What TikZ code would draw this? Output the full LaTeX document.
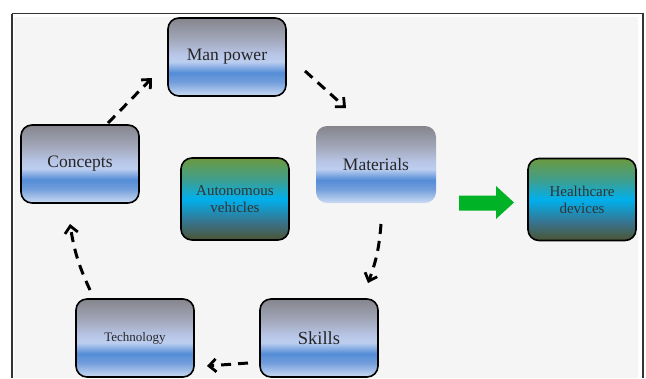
\documentclass[tikz,border=0pt]{standalone}
\usepackage{fontspec}
\setmainfont{Liberation Serif}
\usetikzlibrary{arrows.meta}

% Grey-to-blue glossy fill (0bp = bottom; the box spans 25bp..75bp)
\pgfdeclareverticalshading{bluegloss}{100bp}{%
  rgb(0bp)=(0.80,0.86,0.95);
  rgb(25bp)=(0.80,0.86,0.95);
  rgb(34bp)=(0.45,0.62,0.86);
  rgb(40bp)=(0.33,0.55,0.84);
  rgb(47bp)=(0.74,0.81,0.94);
  rgb(52bp)=(0.72,0.77,0.90);
  rgb(62bp)=(0.63,0.65,0.72);
  rgb(75bp)=(0.52,0.52,0.55);
  rgb(100bp)=(0.52,0.52,0.55)}
% Olive / cyan / olive fill
\pgfdeclareverticalshading{greengloss}{100bp}{%
  rgb(0bp)=(0.30,0.33,0.20);
  rgb(25bp)=(0.30,0.33,0.20);
  rgb(36bp)=(0.22,0.45,0.55);
  rgb(50bp)=(0.00,0.69,0.93);
  rgb(62bp)=(0.25,0.62,0.55);
  rgb(75bp)=(0.42,0.60,0.25);
  rgb(100bp)=(0.42,0.60,0.25)}

\tikzset{
  card/.style={rounded corners=11pt, shading=bluegloss, draw=black, line width=1.6pt,
    minimum width=#1, minimum height=78pt, inner sep=0pt, align=center,
    text=black!85},
  card/.default=118pt,
  glasscard/.style={rounded corners=11pt, shading=bluegloss,
    minimum width=120pt, minimum height=77pt, inner sep=0pt, align=center,
    text=black!85},
  greencard/.style={rounded corners=11pt, shading=greengloss, draw=black, line width=1.6pt,
    minimum width=108pt, minimum height=82pt, inner sep=0pt, align=center,
    text=black!80, font=\fontsize{15}{17}\selectfont},
  flow/.style={line width=3pt, dash pattern=on 10pt off 7pt,
    -{Straight Barb[length=7pt,width=13pt,line width=2.8pt]}},
  bigarrow/.style={fill=green!65!black!85!cyan, draw=none}
}

\begin{document}
\begin{tikzpicture}[x=1pt,y=-1pt]
  \useasboundingbox (0,0) rectangle (646,378);
  % outer frame and grey canvas
  \fill[white] (0,0) rectangle (646,378);
  \draw[black!80, line width=1.4pt] (12,13.5) -- (643,13.5) -- (643,378) (12,13.5) -- (12,378);
  \fill[black!4] (13.5,17) rectangle (638,378);

  % cycle of factors
  \node[card, font=\fontsize{17.5}{19}\selectfont] (man) at (227,57) {Man power};
  \node[card, font=\fontsize{17.5}{19}\selectfont] (con) at (80,164) {Concepts};
  \node[glasscard, font=\fontsize{17.5}{19}\selectfont] (mat) at (376,164.5) {Materials};
  \node[card, font=\fontsize{18.5}{20}\selectfont] (ski) at (319,338) {Skills};
  \node[card, font=\fontsize{13}{15}\selectfont] (tec) at (135,338) {Technology};

  % application areas
  \node[greencard] (aut) at (235,199) {Autonomous\\vehicles};
  \node[greencard] (hea) at (582,199.5) {Healthcare\\devices};

  % dashed flow between factors
  \draw[flow] (108,123) -- (152,78);
  \draw[flow] (305,71) -- (346,108);
  \draw[flow] (381,224) to[bend left=8] (368,283);
  \draw[flow] (248,363) -- (207,366);
  \draw[flow] (90,290) to[bend left=8] (70,224);

  % outcome arrow
  \fill[bigarrow] (459,195.5) -- (496,195.5) -- (496,186) -- (514,202.5)
    -- (496,219) -- (496,210.5) -- (459,210.5) -- cycle;
\end{tikzpicture}
\end{document}
